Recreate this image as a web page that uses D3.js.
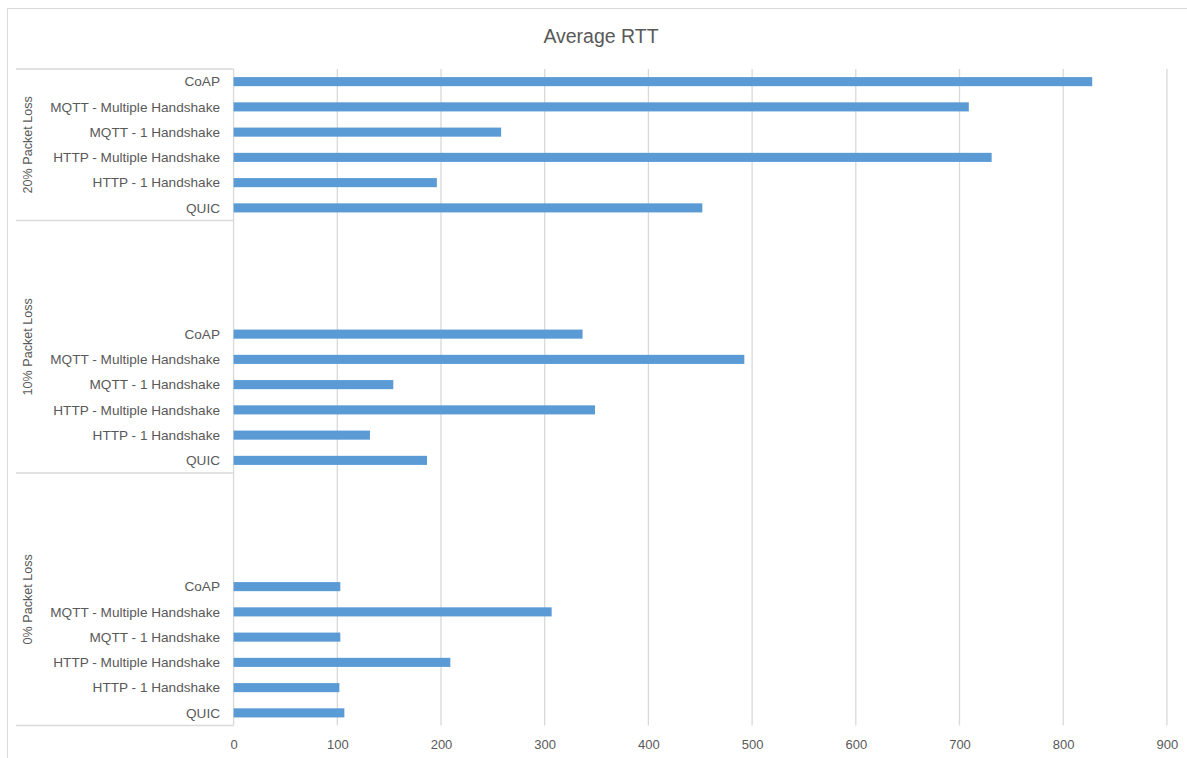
<!DOCTYPE html>
<html>
<head>
<meta charset="utf-8">
<script src="https://cdnjs.cloudflare.com/ajax/libs/d3/7.8.5/d3.min.js"></script>
<style>
  body { margin: 0; background: #fff; }
  text { font-family: "Liberation Sans", Arial, sans-serif; fill: #595959; }
</style>
</head>
<body>
<div id="dataviz"></div>
<script>
// groups listed bottom to top, like the excel sheet rows
var groups = ["0% Packet Loss", "10% Packet Loss", "20% Packet Loss"];
var protocols = ["QUIC", "HTTP - 1 Handshake", "HTTP - Multiple Handshake",
                 "MQTT - 1 Handshake", "MQTT - Multiple Handshake", "CoAP"];
var rtt0  = [106.8, 102, 209, 102.9, 306.7, 102.9];
var rtt10 = [186.5, 131.5, 348.5, 154, 492.5, 336.5];
var rtt20 = [452, 196, 731, 258, 709, 828];
var rttValues = [rtt0, rtt10, rtt20];
var blankRows = 4;   // empty category rows between the groups in the sheet
var xTicks = [0, 100, 200, 300, 400, 500, 600, 700, 800, 900];
var title = "Average RTT";

var width = 1187, height = 758;
var plotLeft = 233.6, plotRight = 1166.9, plotTop = 69, plotBottom = 725.5;

// build category rows (bottom to top)
var rows = [];
var groupSpans = [];
for (g = 0; g < groups.length; g++) {
  var first = rows.length;
  for (i = 0; i < protocols.length; i++) {
    rows.push({key: g + "-" + i, label: protocols[i], value: rttValues[g][i]});
  }
  if (g < groups.length - 1) {
    for (b = 0; b < blankRows; b++) {
      rows.push({key: g + "-blank" + b, label: "", value: null});
    }
  }
  groupSpans.push({name: groups[g], first: first, last: rows.length - 1});
}

var svg = d3.select("#dataviz").append("svg")
            .attr("width", width)
            .attr("height", height);

// chart frame
svg.append("rect")
   .attr("x", 7.5).attr("y", 8.5)
   .attr("width", 1300).attr("height", 900)
   .attr("fill", "#fff")
   .attr("stroke", "#d9d9d9");

var x = d3.scaleLinear().domain([0, 900]).range([plotLeft, plotRight]);
var y = d3.scaleBand()
          .domain(rows.map(function(d) { return d.key; }).reverse())
          .range([plotTop, plotBottom])
          .paddingInner(0.64)
          .paddingOuter(0.32);
var step = y.step();

// vertical gridlines
svg.append("g")
   .selectAll("line")
   .data(xTicks.slice(1))
   .enter().append("line")
   .attr("x1", function(d) { return x(d); })
   .attr("x2", function(d) { return x(d); })
   .attr("y1", plotTop)
   .attr("y2", plotBottom)
   .attr("stroke", "#d9d9d9")
   .attr("stroke-width", 1.3);

// x axis labels
var xAxis = d3.axisBottom(x).tickValues(xTicks).tickSize(0).tickPadding(0);
var xg = svg.append("g")
            .attr("transform", "translate(0," + 749 + ")")
            .call(xAxis);
xg.select(".domain").remove();
xg.selectAll("text")
  .attr("y", 0)
  .attr("dy", 0)
  .attr("font-size", "13px")
  .style("font-family", "'Liberation Sans', Arial, sans-serif")
  .attr("fill", "#595959");

// category axis box
var boxLeft = 16;
svg.append("line")
   .attr("x1", plotLeft).attr("x2", plotLeft)
   .attr("y1", plotTop).attr("y2", plotBottom)
   .attr("stroke", "#d9d9d9").attr("stroke-width", 1.3);

var sepY = [plotTop];
for (g = groupSpans.length - 1; g >= 0; g--) {
  sepY.push(y(rows[groupSpans[g].first].key) + y.bandwidth() + (step - y.bandwidth()) / 2);
}
svg.append("g")
   .selectAll("line")
   .data(sepY)
   .enter().append("line")
   .attr("x1", boxLeft).attr("x2", plotLeft)
   .attr("y1", function(d) { return d; })
   .attr("y2", function(d) { return d; })
   .attr("stroke", "#d9d9d9").attr("stroke-width", 1.3);

// bars
svg.append("g")
   .selectAll("rect")
   .data(rows.filter(function(d) { return d.value !== null; }))
   .enter().append("rect")
   .attr("x", x(0))
   .attr("y", function(d) { return y(d.key); })
   .attr("width", function(d) { return x(d.value) - x(0); })
   .attr("height", y.bandwidth())
   .attr("fill", "#5b9bd5");

// category labels
svg.append("g")
   .selectAll("text")
   .data(rows.filter(function(d) { return d.label !== ""; }))
   .enter().append("text")
   .attr("x", 220)
   .attr("y", function(d) { return y(d.key) + y.bandwidth() / 2; })
   .attr("dy", "0.35em")
   .attr("text-anchor", "end")
   .attr("font-size", "13.6px")
   .text(function(d) { return d.label; });

// group labels
svg.append("g")
   .selectAll("text")
   .data(groupSpans)
   .enter().append("text")
   .attr("transform", function(d) {
      var top = y(rows[d.last].key) - (step - y.bandwidth()) / 2;
      var bottom = y(rows[d.first].key) + y.bandwidth() + (step - y.bandwidth()) / 2;
      return "translate(32," + ((top + bottom) / 2) + ") rotate(-90)";
   })
   .attr("text-anchor", "middle")
   .attr("font-size", "12.6px")
   .text(function(d) { return d.name; });

// title
svg.append("text")
   .attr("x", 601)
   .attr("y", 43)
   .attr("text-anchor", "middle")
   .attr("font-size", "19.5px")
   .text(title);
</script>
</body>
</html>
